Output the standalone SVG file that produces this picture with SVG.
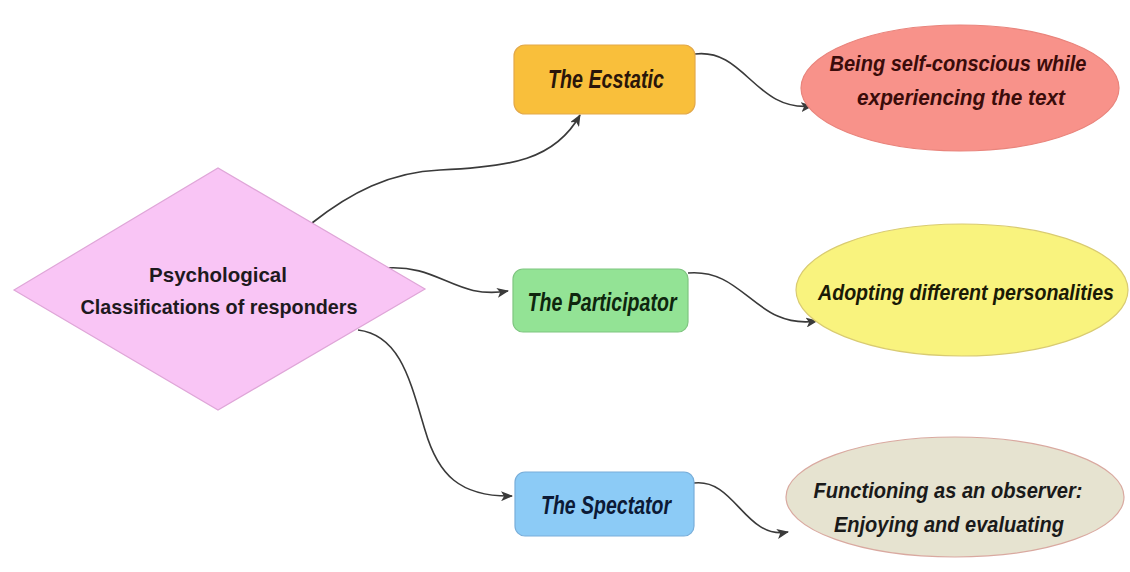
<svg xmlns="http://www.w3.org/2000/svg" width="1130" height="572" viewBox="0 0 1130 572">
  <style>
    .lbl { font-family: "Liberation Sans", Arial, sans-serif; font-weight: bold; text-anchor: middle; }
    .it { font-style: italic; }
    .box-t { font-size: 26px; }
    .ell-t { font-size: 22px; }
    .conn { fill: none; stroke: #3a3a3a; stroke-width: 1.6; marker-end: url(#arrow); }
  </style>
  <defs>
    <marker id="arrow" viewBox="0 0 12 10" refX="11" refY="5" markerWidth="12" markerHeight="10" markerUnits="userSpaceOnUse" orient="auto">
      <path d="M0,0 L12,5 L0,10 L3,5 Z" fill="#3a3a3a"/>
    </marker>
  </defs>

  <rect width="1130" height="572" fill="#ffffff"/>

  <!-- connectors -->
  <g id="connectors">
    <path class="conn" d="M312,223 C350,193 390,172 440,170 C510,167 555,160 580,115"/>
    <path class="conn" d="M695,54 C745,48 755,112 812,106"/>
    <path class="conn" d="M385,268 C440,264 455,300 508,291"/>
    <path class="conn" d="M688,273 C745,268 755,330 817,321"/>
    <path class="conn" d="M358,330 C400,335 410,380 425,430 C438,475 460,497 512,496"/>
    <path class="conn" d="M694,483 C735,478 745,540 788,532"/>
  </g>

  <!-- root -->
  <g id="root">
    <polygon points="14,290 218,168 425,289 218,410" fill="#F9C5F5" stroke="#DFA6D8" stroke-width="1.2"/>
    <text class="lbl" x="218" y="282" font-size="20.5" fill="#1e1a1e">Psychological</text>
    <text class="lbl" x="219" y="314" font-size="20.5" textLength="277" lengthAdjust="spacingAndGlyphs" fill="#1e1a1e">Classifications of responders</text>
  </g>

  <!-- types -->
  <g id="ecstatic">
    <rect x="514" y="45" width="181" height="69" rx="11" fill="#F9BF3B" stroke="#E3A94A" stroke-width="1.2"/>
    <text class="lbl it box-t" x="606" y="88" textLength="116" lengthAdjust="spacingAndGlyphs" fill="#2a160a">The Ecstatic</text>
  </g>
  <g id="participator">
    <rect x="513" y="269" width="175" height="63" rx="10" fill="#93E395" stroke="#7FC680" stroke-width="1.2"/>
    <text class="lbl it box-t" x="602" y="311" textLength="149" lengthAdjust="spacingAndGlyphs" fill="#0e260e">The Participator</text>
  </g>
  <g id="spectator">
    <rect x="515" y="472" width="179" height="64" rx="10" fill="#8CCBF6" stroke="#78AEDA" stroke-width="1.2"/>
    <text class="lbl it box-t" x="606" y="514" textLength="130" lengthAdjust="spacingAndGlyphs" fill="#0c1a36">The Spectator</text>
  </g>

  <!-- descriptions -->
  <g id="self-conscious">
    <ellipse cx="960" cy="88" rx="159" ry="63" fill="#F8928A" stroke="#E9847C" stroke-width="1.2"/>
    <text class="lbl it ell-t" x="958" y="71" textLength="257" lengthAdjust="spacingAndGlyphs" fill="#3a0c0a">Being self-conscious while</text>
    <text class="lbl it ell-t" x="961" y="105" textLength="208" lengthAdjust="spacingAndGlyphs" fill="#3a0c0a">experiencing the text</text>
  </g>
  <g id="personalities">
    <ellipse cx="962" cy="290" rx="166" ry="66" fill="#F9F37E" stroke="#D9CB72" stroke-width="1.2"/>
    <text class="lbl it ell-t" x="966" y="300" textLength="296" lengthAdjust="spacingAndGlyphs" fill="#1a1a06">Adopting different personalities</text>
  </g>
  <g id="observer">
    <ellipse cx="955" cy="497" rx="169" ry="60" fill="#E6E3D0" stroke="#D9A9A0" stroke-width="1.2"/>
    <text class="lbl it ell-t" x="948" y="498" textLength="269" lengthAdjust="spacingAndGlyphs" fill="#1a1a1a">Functioning as an observer:</text>
    <text class="lbl it ell-t" x="949" y="532" textLength="230" lengthAdjust="spacingAndGlyphs" fill="#1a1a1a">Enjoying and evaluating</text>
  </g>
</svg>
